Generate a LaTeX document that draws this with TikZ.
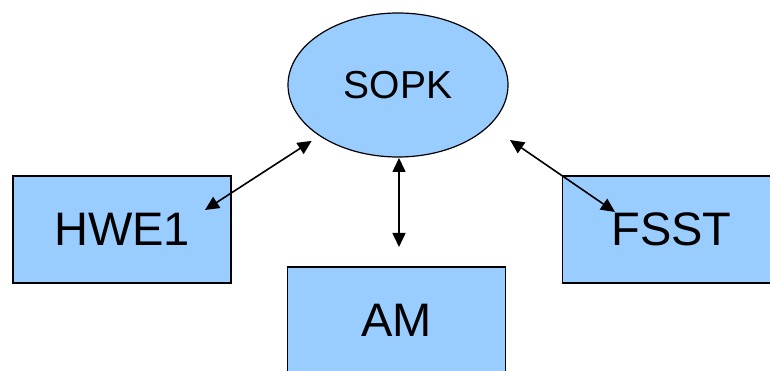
\documentclass[tikz,border=0pt]{standalone}
\usepackage{fontspec}
\setmainfont{Liberation Sans}
\usepackage{tikz}
\usetikzlibrary{arrows.meta, shapes.geometric}

\definecolor{boxblue}{HTML}{99CCFF}

\begin{document}
\begin{tikzpicture}[x=1pt, y=1pt,
    box/.style={draw, line width=1.2pt, fill=boxblue, minimum width=218pt,
      minimum height=107pt, inner sep=0pt, font=\fontsize{47}{50}\selectfont},
    link/.style={{Triangle[length=14pt,width=13pt]}-{Triangle[length=14pt,width=13pt]},
      line width=1.6pt}]
  \useasboundingbox (0,0) rectangle (770,371);
  \clip (0,0) rectangle (770,371);
  \node[ellipse, draw, line width=1.2pt, fill=boxblue, minimum width=220pt,
    minimum height=144pt, inner sep=0pt, font=\fontsize{39}{42}\selectfont]
    (sopk) at (398,286) {SOPK};
  \node[box] (hwe) at (122,141.5) {HWE1};
  \node[box] (am) at (396.5,50.5) {AM};
  % runs past the right edge
  \node[box, minimum width=240pt, anchor=west] (fsst) at (562,141.5)
    {FSST\kern22pt};
  % arrow ends
  \coordinate (hwetip) at (205,161);
  \coordinate (fssttip) at (615,159);
  \coordinate (fsstend) at (510,231);
  \coordinate (amtop) at (399,213);
  \coordinate (amtip) at (399,124);
  \draw[link, shorten >=9pt] (hwetip) -- (sopk);
  \draw[link] (amtop) -- (amtip);
  \draw[link] (fssttip) -- (fsstend);
\end{tikzpicture}
\end{document}
